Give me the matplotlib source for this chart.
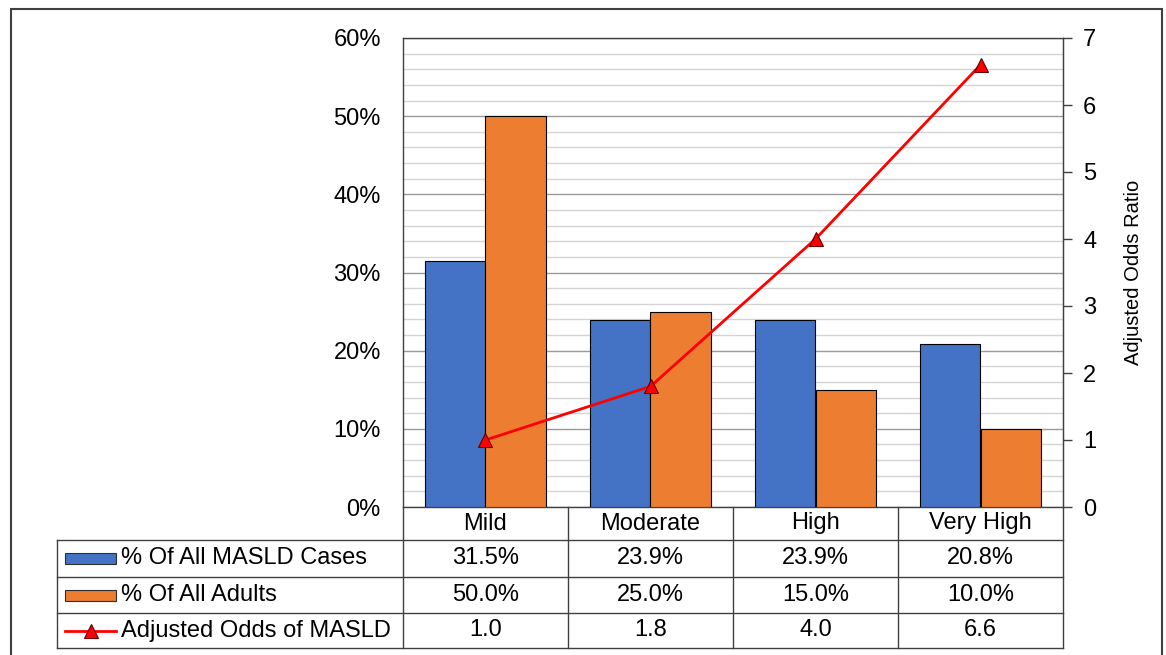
import matplotlib.pyplot as plt
from matplotlib.patches import Rectangle
from matplotlib.lines import Line2D
from matplotlib.ticker import MultipleLocator, PercentFormatter

plt.rcParams['font.family'] = ['Liberation Sans', 'DejaVu Sans']

categories = ["Mild", "Moderate", "High", "Very High"]
pct_cases = [31.5, 23.9, 23.9, 20.8]
pct_adults = [50.0, 25.0, 15.0, 10.0]
odds = [1.0, 1.8, 4.0, 6.6]
series_names = ["% Of All MASLD Cases", "% Of All Adults", "Adjusted Odds of MASLD"]

blue = "#4472C4"
orange = "#ED7D31"
red = "#FF0000"
fs = 17

fig = plt.figure(figsize=(11.66, 6.55), dpi=100)
ax = fig.add_axes([403 / 1166, 1 - 507 / 655, 660 / 1166, 469 / 655])

x = list(range(len(categories)))
w = 0.364
ax.bar([i - w / 2 for i in x], pct_cases, width=w, color=blue, edgecolor="black", linewidth=0.8, zorder=3)
ax.bar([i + w / 2 for i in x], pct_adults, width=w, color=orange, edgecolor="black", linewidth=0.8, zorder=3)

ax.set_xlim(-0.5, len(categories) - 0.5)
ax.set_ylim(0, 60)
ax.yaxis.set_major_locator(MultipleLocator(10))
ax.yaxis.set_minor_locator(MultipleLocator(2))
ax.yaxis.set_major_formatter(PercentFormatter(decimals=0))
ax.grid(axis="y", which="major", color="#999999", linewidth=1.0, zorder=0)
ax.grid(axis="y", which="minor", color="#d4d4d4", linewidth=1.0, zorder=0)
ax.tick_params(axis="y", which="both", length=0, labelsize=fs, pad=16)
ax.tick_params(axis="x", which="both", length=0, labelbottom=False)
for s in ax.spines.values():
    s.set_color("#404040")
    s.set_linewidth(1.0)

# odds ratio on the secondary axis
ax2 = ax.twinx()
ax2.plot(x, odds, color=red, linewidth=2, marker="^", markersize=10,
         markerfacecolor=red, markeredgecolor="#600000", markeredgewidth=0.8, zorder=5)
ax2.set_ylim(0, 7)
ax2.yaxis.set_major_locator(MultipleLocator(1))
ax2.tick_params(axis="y", length=6.5, width=1, color="#404040", labelsize=fs, pad=8)
ax2.set_ylabel("Adjusted Odds Ratio", fontsize=14.5, labelpad=20)
for s in ax2.spines.values():
    s.set_visible(False)
ax2.spines["right"].set_visible(True)
ax2.spines["right"].set_color("#404040")

# data table under the plot (x in data units, y in axes fraction)
tr = ax.get_xaxis_transform()
rows = [0, -33 / 469, -70 / 469, -106 / 469, -141 / 469]
left_x = -0.5 - 346 / 165
lc = "#404040"
lines = []
# horizontal lines
for r in rows[1:]:
    lines.append(Line2D([left_x, 3.5], [r, r], transform=tr))
# vertical lines
lines.append(Line2D([left_x, left_x], [rows[1], rows[4]], transform=tr))
for b in [-0.5, 0.5, 1.5, 2.5, 3.5]:
    lines.append(Line2D([b, b], [0, rows[4]], transform=tr))
for ln in lines:
    ln.set_color(lc)
    ln.set_linewidth(1.0)
    ln.set_clip_on(False)
    ax.add_line(ln)

mid = [(rows[i] + rows[i + 1]) / 2 for i in range(4)]
for i, c in enumerate(categories):
    ax.text(i, mid[0], c, transform=tr, ha="center", va="center", fontsize=fs)
    ax.text(i, mid[1], f"{pct_cases[i]:.1f}%", transform=tr, ha="center", va="center", fontsize=fs)
    ax.text(i, mid[2], f"{pct_adults[i]:.1f}%", transform=tr, ha="center", va="center", fontsize=fs)
    ax.text(i, mid[3], f"{odds[i]:.1f}", transform=tr, ha="center", va="center", fontsize=fs)

# legend keys in the first column
sw0 = -0.5 - 338 / 165
sw1 = -0.5 - 287 / 165
swh = 11 / 469
for r, col in [(mid[1], blue), (mid[2], orange)]:
    ax.add_patch(Rectangle((sw0, r - swh / 2), sw1 - sw0, swh, transform=tr,
                           facecolor=col, edgecolor="#303030", linewidth=0.8, clip_on=False))
ax.add_line(Line2D([sw0, sw1], [mid[3], mid[3]], transform=tr, color=red, linewidth=2, clip_on=False))
ax.add_line(Line2D([(sw0 + sw1) / 2], [mid[3]], transform=tr, marker="^", markersize=10,
                   markerfacecolor=red, markeredgecolor="#600000", markeredgewidth=0.8,
                   linestyle="none", clip_on=False))
tx = -0.5 - 282 / 165
for r, name in zip(mid[1:], series_names):
    ax.text(tx, r, name, transform=tr, ha="left", va="center", fontsize=fs)

# outer frame
fig.patches.append(Rectangle((11 / 1166, -0.02), 1151 / 1166, 1 - 9 / 655 + 0.02,
                             transform=fig.transFigure, fill=False,
                             edgecolor="#404040", linewidth=1.5))

fig.savefig("out.png", dpi=100)
